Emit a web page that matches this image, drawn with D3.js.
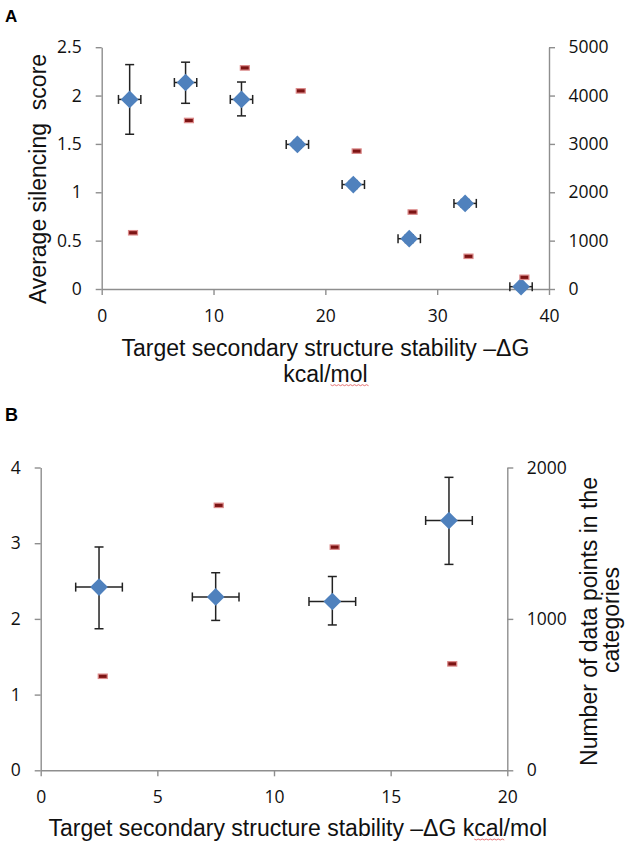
<!DOCTYPE html>
<html><head><meta charset="utf-8">
<script src="https://cdn.jsdelivr.net/npm/d3@7"></script>
<style>
html,body{margin:0;padding:0;background:#fff;}
svg{display:block;}
</style></head>
<body>
<svg id="chart" width="630" height="844"></svg>
<script>
// ---------- Panel A data ----------
const aX = [2.5, 7.5, 12.5, 17.5, 22.5, 27.5, 32.5, 37.5];
const aScore = [1.96, 2.135, 1.96, 1.495, 1.08, 0.52, 0.885, 0.024];
const aErrPlus = [0.36, 0.21, 0.18, 0.04, 0.04, 0.04, 0.04, 0.03];
const aErrMinus = [0.36, 0.215, 0.17, 0.04, 0.04, 0.04, 0.04, 0.03];
const aXErr = [1, 1, 1, 1, 1, 1, 1, 1];
const aCountX = [2.8, 7.8, 12.8, 17.8, 22.8, 27.8, 32.8, 37.8];
const aCount = [1163, 3485, 4572, 4097, 2851, 1591, 676, 242];
const aXTicks = [0, 10, 20, 30, 40];
const aYTicks = [0, 0.5, 1, 1.5, 2, 2.5];
const aY2Ticks = [0, 1000, 2000, 3000, 4000, 5000];

// ---------- Panel B data ----------
const bX = [2.5, 7.5, 12.5, 17.5];
const bScore = [2.42, 2.29, 2.23, 3.30];
const bErrPlus = [0.53, 0.32, 0.33, 0.57];
const bErrMinus = [0.55, 0.31, 0.31, 0.58];
const bXErr = [1, 1, 1, 1];
const bCountX = [2.66, 7.63, 12.6, 17.64];
const bCount = [621, 1750, 1474, 703];
const bXTicks = [0, 5, 10, 15, 20];
const bYTicks = [0, 1, 2, 3, 4];
const bY2Ticks = [0, 1000, 2000];

const svg = d3.select("#chart");
const TICKFONT = "'Open Sans', sans-serif";
const TITLEFONT = "'Liberation Sans', Arial, sans-serif";
const AXISCOL = "#8e8e8e";
const BLUE = "#4f81bd";

function styleAxis(g){
  g.select(".domain").attr("stroke", AXISCOL).attr("stroke-width", 1.4);
  g.selectAll(".tick line").attr("stroke", AXISCOL).attr("stroke-width", 1.4);
  g.selectAll(".tick text").attr("fill", "#111").style("font-family", TICKFONT).style("font-size", "17.5px");
}

function panel(cfg){
  const x = d3.scaleLinear().domain(cfg.xDom).range([cfg.left, cfg.right]);
  const y = d3.scaleLinear().domain(cfg.yDom).range([cfg.bottom, cfg.top]);
  const y2 = d3.scaleLinear().domain(cfg.y2Dom).range([cfg.bottom, cfg.top]);
  const g = svg.append("g");

  g.append("g").attr("transform", `translate(0,${cfg.bottom})`)
    .call(d3.axisBottom(x).tickValues(cfg.xTicks).tickSize(6).tickPadding(14.5).tickSizeOuter(0).tickFormat(d3.format("")))
    .call(styleAxis);
  g.append("g").attr("transform", `translate(${cfg.left},0)`)
    .call(d3.axisLeft(y).tickValues(cfg.yTicks).tickSize(6).tickPadding(14).tickSizeOuter(0).tickFormat(d3.format("")))
    .call(styleAxis);
  g.append("g").attr("transform", `translate(${cfg.right},0)`)
    .call(d3.axisRight(y2).tickValues(cfg.y2Ticks).tickSize(6).tickPadding(13.5).tickSizeOuter(0).tickFormat(d3.format("")))
    .call(styleAxis);

  const pts = cfg.xs.map((v,i)=>({x:v, y:cfg.score[i], ep:cfg.ePlus[i], em:cfg.eMinus[i], xe:cfg.xErr[i]}));
  const eb = g.append("g").attr("stroke", "#222").attr("stroke-width", 1.5).attr("fill","none");
  const cap = 4.5;
  pts.forEach(p=>{
    const cx = x(p.x), cy = y(p.y);
    const yt = y(p.y + p.ep), yb = y(p.y - p.em);
    const xl = x(p.x - p.xe), xr = x(p.x + p.xe);
    eb.append("line").attr("x1",cx).attr("x2",cx).attr("y1",yt).attr("y2",yb);
    eb.append("line").attr("x1",cx-cap).attr("x2",cx+cap).attr("y1",yt).attr("y2",yt);
    eb.append("line").attr("x1",cx-cap).attr("x2",cx+cap).attr("y1",yb).attr("y2",yb);
    eb.append("line").attr("x1",xl).attr("x2",xr).attr("y1",cy).attr("y2",cy);
    eb.append("line").attr("x1",xl).attr("x2",xl).attr("y1",cy-cap).attr("y2",cy+cap);
    eb.append("line").attr("x1",xr).attr("x2",xr).attr("y1",cy-cap).attr("y2",cy+cap);
  });
  const dia = d3.symbol().type(d3.symbolDiamond2 || d3.symbolSquare).size(200);
  g.append("g").selectAll("path").data(pts).join("path")
    .attr("d", dia)
    .attr("transform", d=>`translate(${x(d.x)},${y(d.y)}) rotate(${d3.symbolDiamond2?0:45})`)
    .attr("fill", BLUE);

  const cnt = cfg.cx.map((v,i)=>({x:v, c:cfg.count[i]}));
  g.append("g").selectAll("rect").data(cnt).join("rect")
    .attr("x", d=>x(d.x)-4.5).attr("y", d=>y2(d.c)-2.2)
    .attr("width", 9).attr("height", 4.4)
    .attr("fill", "#7d1414").attr("stroke", "#dc8a8a").attr("stroke-width", 1.2);
  return {x,y,y2};
}

panel({xDom:[0,40], yDom:[0,2.5], y2Dom:[0,5000], left:101.7, right:549, top:47.2, bottom:289,
  xTicks:aXTicks, yTicks:aYTicks, y2Ticks:aY2Ticks,
  xs:aX, score:aScore, ePlus:aErrPlus, eMinus:aErrMinus, xErr:aXErr, cx:aCountX, count:aCount});

panel({xDom:[0,20], yDom:[0,4], y2Dom:[0,2000], left:40.7, right:507.3, top:467.5, bottom:770.3,
  xTicks:bXTicks, yTicks:bYTicks, y2Ticks:bY2Ticks,
  xs:bX, score:bScore, ePlus:bErrPlus, eMinus:bErrMinus, xErr:bXErr, cx:bCountX, count:bCount});

// Panel letters
svg.append("text").attr("x",5).attr("y",21.7).text("A")
  .style("font-family",TITLEFONT).style("font-weight","bold").style("font-size","17px");
svg.append("text").attr("x",5).attr("y",420.7).text("B")
  .style("font-family",TITLEFONT).style("font-weight","bold").style("font-size","18px");

function title(txt, x, y, rot, anchor){
  const t = svg.append("text").attr("text-anchor", anchor||"middle")
    .attr("transform", `translate(${x},${y})` + (rot?` rotate(${rot})`:""))
    .style("font-family",TITLEFONT).style("font-size","23px").attr("fill","#111")
    .style("white-space","pre").attr("xml:space","preserve")
    .text(txt);
  return t;
}
function squiggle(t, start, len, x, y){
  // red spell-check underline under a substring of a horizontal title
  const node = t.node();
  const full = node.getComputedTextLength();
  let pre = 0;
  try { pre = start>0 ? node.getSubStringLength(0,start) : 0; } catch(e){}
  let w = 30;
  try { w = node.getSubStringLength(start,len); } catch(e){}
  const x0 = x - full/2 + pre;
  const pts = [];
  for (let i=0;i<=Math.ceil(w/2);i++) pts.push([x0+i*2, y+3+(i%2?1:0)]);
  svg.append("path").attr("d", d3.line()(pts)).attr("fill","none").attr("stroke","#e05050").attr("stroke-width",0.8);
}

title("Target secondary structure stability \u2013\u0394G", 325.4, 355.7);
const a2 = title("kcal/mol", 325.4, 381.7);
squiggle(a2, 5, 3, 325.4, 381.7);
title("Average silencing  score", 46, 179, -90);

const b1 = title("Target secondary structure stability \u2013\u0394G kcal/mol", 297.8, 836);
squiggle(b1, 42, 3, 297.8, 836);
title("Number of data points in the", 597, 621.5, -90);
title("categories", 618.5, 620, -90);
</script>
</body></html>
